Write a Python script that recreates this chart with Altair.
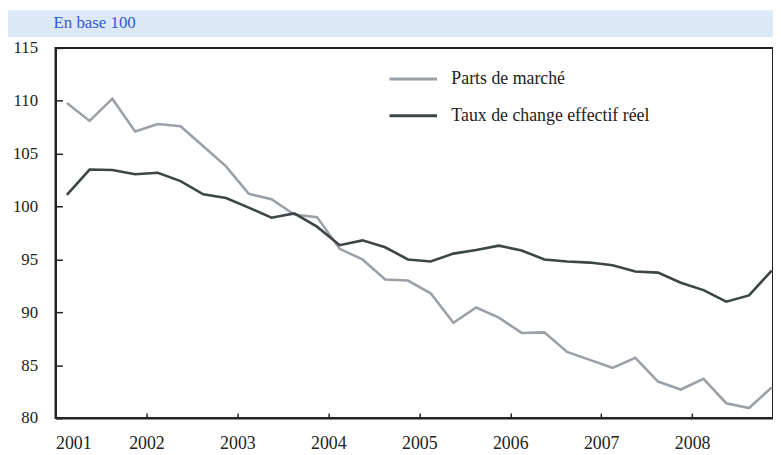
import altair as alt
import pandas as pd

# ---- data (quarterly, base 100) ----
years = [2001, 2002, 2003, 2004, 2005, 2006, 2007, 2008]
quarters = [1, 2, 3, 4]
series_names = ["Parts de marché", "Taux de change effectif réel"]
parts_marche = [109.8, 108.1, 110.2, 107.1, 107.8, 107.6, 105.7, 103.8,
                101.2, 100.7, 99.25, 99.0, 96.0, 95.0, 93.1, 93.0,
                91.8, 89.0, 90.45, 89.5, 88.05, 88.1, 86.25, 85.5,
                84.75, 85.7, 83.45, 82.7, 83.7, 81.4, 80.95, 82.9]
taux_change = [101.1, 103.5, 103.45, 103.05, 103.2, 102.4, 101.15, 100.8,
               99.9, 98.95, 99.35, 98.1, 96.35, 96.8, 96.15, 95.0,
               94.8, 95.55, 95.9, 96.3, 95.85, 95.0, 94.8, 94.7,
               94.45, 93.85, 93.75, 92.8, 92.1, 91.0, 91.6, 93.95]
y_ticks = [80, 85, 90, 95, 100, 105, 110, 115]
subtitle = "En base 100"

periods = [(y, q) for y in years for q in quarters]
rows = []
for name, vals in zip(series_names, [parts_marche, taux_change]):
    for (y, q), v in zip(periods, vals):
        rows.append({"t": y + (q - 0.5) / 4, "v": v, "serie": name})
df = pd.DataFrame(rows)

FONT = "Liberation Serif"
W, H = 725, 374
x_scale = alt.Scale(domain=[2001, 2008.889], nice=False, zero=False)
y_scale = alt.Scale(domain=[80, 115], nice=False, zero=False)

one = pd.DataFrame({"a": [0]})
band = alt.Chart(one).mark_rect(color="#dee9f7").encode(
    x=alt.value(-48), x2=alt.value(W), y=alt.value(-38), y2=alt.value(-11)
)
head = alt.Chart(one).mark_text(
    text=subtitle, font=FONT, fontSize=17, color="#2b5bd0",
    align="left", baseline="alphabetic"
).encode(x=alt.value(-2), y=alt.value(-20))

lines = alt.Chart(df).mark_line(strokeWidth=2.6).encode(
    x=alt.X("t:Q", scale=x_scale,
            axis=alt.Axis(orient="bottom", values=years, format="d", title=None,
                          ticks=False, labelPadding=17, labelFontSize=18,
                          labelFont=FONT, labelColor="#222222", grid=False,
                          domainColor="#222222", domainWidth=2)),
    y=alt.Y("v:Q", scale=y_scale,
            axis=alt.Axis(orient="left", values=y_ticks, title=None, ticks=False,
                          labelPadding=18, labelFontSize=17, labelFont=FONT,
                          labelColor="#222222", grid=False,
                          domainColor="#222222", domainWidth=2)),
    color=alt.Color("serie:N",
                    scale=alt.Scale(domain=series_names, range=["#9ca1a7", "#3d4547"]),
                    legend=alt.Legend(orient="none", legendX=336, legendY=6, title=None,
                                      symbolType="stroke", symbolSize=2304,
                                      symbolStrokeWidth=3, labelFont=FONT,
                                      labelFontSize=18, labelColor="#222222",
                                      labelOffset=13, rowPadding=2, padding=0,
                                      labelLimit=400)),
)

ticks = alt.Chart(df).mark_point(opacity=0).encode(
    x=alt.X("t:Q", scale=x_scale,
            axis=alt.Axis(orient="bottom", values=years, offset=-5, tickSize=5,
                          labels=False, domain=False, grid=False, title=None,
                          tickColor="#222222", tickWidth=1.5)),
    y=alt.Y("v:Q", scale=y_scale,
            axis=alt.Axis(orient="left", values=y_ticks, offset=-7, tickSize=7,
                          labels=False, domain=False, grid=False, title=None,
                          tickColor="#222222", tickWidth=1.5)),
)

chart = alt.layer(band, head, lines, ticks).resolve_axis(
    x="independent", y="independent"
).properties(
    width=W, height=H,
    autosize=alt.AutoSizeParams(type="none"),
    padding={"left": 48, "top": 38, "right": 0, "bottom": 35},
    background="white",
).configure_view(stroke="#222222", strokeWidth=2)

chart.save("out.html", embed_options={"renderer": "svg", "actions": False})
